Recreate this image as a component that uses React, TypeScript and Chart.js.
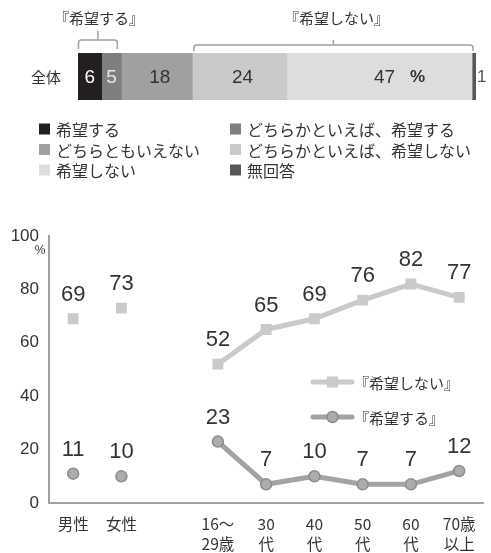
import React, { useEffect, useRef } from 'react';
import { Chart, registerables } from 'chart.js';

Chart.register(...registerables);

// ---- Data: top stacked bar ----
const barCategory = ['全体'];
const barSeriesNames = [
  '希望する',
  'どちらかといえば、希望する',
  'どちらともいえない',
  'どちらかといえば、希望しない',
  '希望しない',
  '無回答',
];
const barValues = [6, 5, 18, 24, 47, 1];
const barColors = ['#231f20', '#7f7f7f', '#9fa0a0', '#c9caca', '#dcdddd', '#595757'];
const barLabelColors = ['#ffffff', '#e6e6e6', '#333333', '#333333', '#333333', '#333333'];
const groupTitles = ['『希望する』', '『希望しない』'];

// ---- Data: bottom line chart ----
const genderLabels = ['男性', '女性'];
const ageLabels = [['16〜', '29歳'], ['30', '代'], ['40', '代'], ['50', '代'], ['60', '代'], ['70歳', '以上']];
const notWantGender = [69, 73];
const notWantAge = [52, 65, 69, 76, 82, 77];
const wantGender = [11, 10];
const wantAge = [23, 7, 10, 7, 7, 12];
const yTicks = [0, 20, 40, 60, 80, 100];
const lineSeriesNames = ['『希望しない』', '『希望する』'];

const JP = '"Noto Sans CJK JP", "Noto Sans", sans-serif';
const NUM = '"Liberation Sans", "Noto Sans", sans-serif';
const TEXT = '#333333';
const NOT_WANT_COLOR = '#c9caca';
const WANT_LINE = '#a3a3a3';
const WANT_POINT = '#acacac';
const WANT_BORDER = '#8c8c8c';
const AXIS = '#a0a0a0';

function drawBracket(ctx: CanvasRenderingContext2D, x1: number, x2: number, yTop: number, yBot: number, midX: number, tickTop: number) {
  const r = 3;
  ctx.beginPath();
  ctx.moveTo(x1, yBot);
  ctx.lineTo(x1, yTop + r);
  ctx.quadraticCurveTo(x1, yTop, x1 + r, yTop);
  ctx.lineTo(x2 - r, yTop);
  ctx.quadraticCurveTo(x2, yTop, x2, yTop + r);
  ctx.lineTo(x2, yBot);
  ctx.moveTo(midX, yTop);
  ctx.lineTo(midX, tickTop);
  ctx.stroke();
}

const topPlugin = {
  id: 'topDecor',
  afterDatasetsDraw(chart: any) {
    const ctx: CanvasRenderingContext2D = chart.ctx;
    ctx.save();
    const els = barValues.map((_, i) => chart.getDatasetMeta(i).data[0]);
    // value labels
    ctx.textBaseline = 'middle';
    barValues.forEach((v, i) => {
      const el = els[i];
      const left = el.base;
      const right = el.x;
      const cx = (left + right) / 2;
      const cy = el.y;
      ctx.fillStyle = barLabelColors[i];
      ctx.font = `19px ${NUM}`;
      if (i === barValues.length - 1) {
        ctx.textAlign = 'left';
        ctx.fillStyle = '#555555';
        ctx.font = `17px ${NUM}`;
        ctx.fillText(String(v), right + 1, cy + 1);
      } else if (i === 4) {
        ctx.textAlign = 'center';
        ctx.fillText(String(v), cx + 5, cy + 1);
        ctx.font = `bold 17px ${NUM}`;
        ctx.fillText('%', cx + 38, cy + 1);
      } else {
        ctx.textAlign = 'center';
        ctx.fillText(String(v), cx + (i >= 2 ? 3 : 0), cy + 1);
      }
    });
    // category label
    ctx.fillStyle = TEXT;
    ctx.font = `15px ${JP}`;
    ctx.textAlign = 'center';
    ctx.fillText(barCategory[0], 46, els[0].y + 1);

    // brackets
    ctx.strokeStyle = '#a0a0a0';
    ctx.lineWidth = 1.5;
    const b1x1 = els[0].base + 0.5;
    const b1x2 = els[1].x - 4;
    const b1mid = (b1x1 + b1x2) / 2;
    drawBracket(ctx, b1x1, b1x2, 40, 49, b1mid, 31);
    const b2x1 = els[3].base + 1.5;
    const b2x2 = els[4].x + 1;
    const b2mid = (b2x1 + b2x2) / 2;
    drawBracket(ctx, b2x1, b2x2, 45, 51, b2mid, 40);
    ctx.fillStyle = TEXT;
    ctx.font = `15px ${JP}`;
    ctx.textAlign = 'center';
    ctx.fillText(groupTitles[0], b1mid + 1, 18);
    ctx.fillText(groupTitles[1], b2mid + 3, 18);

    // legend
    const colX = [39, 230];
    const rowY = [129, 149.5, 170];
    ctx.textAlign = 'left';
    barSeriesNames.forEach((name, i) => {
      const col = i % 2;
      const row = Math.floor(i / 2);
      const x = colX[col];
      const y = rowY[row];
      ctx.fillStyle = barColors[i];
      ctx.fillRect(x, y - 5.5, 11, 11);
      ctx.fillStyle = TEXT;
      ctx.font = `16px ${JP}`;
      ctx.fillText(name, x + 17, y + 1);
    });
    ctx.restore();
  },
};

const bottomPlugin = {
  id: 'bottomDecor',
  afterDatasetsDraw(chart: any) {
    const ctx: CanvasRenderingContext2D = chart.ctx;
    ctx.save();
    ctx.fillStyle = TEXT;
    ctx.font = `22px ${NUM}`;
    ctx.textAlign = 'center';
    ctx.textBaseline = 'middle';
    chart.data.datasets.forEach((ds: any, di: number) => {
      const meta = chart.getDatasetMeta(di);
      meta.data.forEach((pt: any, i: number) => {
        const v = ds.data[i];
        if (v == null) return;
        ctx.fillText(String(v), pt.x, pt.y - 24);
      });
    });

    // unit under "100"
    const yScale = chart.scales.y;
    const top = yScale.getPixelForValue(100);
    ctx.font = `12px ${NUM}`;
    ctx.fillText('%', 40, top + 15);

    // legend
    const lx1 = 313;
    const lx2 = 352;
    const items = [
      { y: 182, color: NOT_WANT_COLOR, style: 'rect' },
      { y: 217, color: WANT_LINE, style: 'circle' },
    ];
    items.forEach((it, i) => {
      ctx.strokeStyle = it.color;
      ctx.lineWidth = 5;
      ctx.lineCap = 'round';
      ctx.beginPath();
      ctx.moveTo(lx1, it.y);
      ctx.lineTo(lx2, it.y);
      ctx.stroke();
      const mx = (lx1 + lx2) / 2;
      if (it.style === 'rect') {
        ctx.fillStyle = NOT_WANT_COLOR;
        ctx.fillRect(mx - 5.5, it.y - 5.5, 11, 11);
      } else {
        ctx.fillStyle = WANT_POINT;
        ctx.strokeStyle = WANT_BORDER;
        ctx.lineWidth = 1.5;
        ctx.beginPath();
        ctx.arc(mx, it.y, 5.5, 0, Math.PI * 2);
        ctx.fill();
        ctx.stroke();
      }
      ctx.fillStyle = TEXT;
      ctx.font = `15px ${JP}`;
      ctx.textAlign = 'left';
      ctx.fillText(lineSeriesNames[i], lx2 + 2, it.y + 1);
    });
    ctx.restore();
  },
};

export default function App() {
  const topRef = useRef<HTMLCanvasElement>(null);
  const botRef = useRef<HTMLCanvasElement>(null);

  useEffect(() => {
    const topChart = new Chart(topRef.current!, {
      type: 'bar',
      data: {
        labels: barCategory,
        datasets: barValues.map((v, i) => ({
          label: barSeriesNames[i],
          data: [v],
          backgroundColor: barColors[i],
          borderWidth: 0,
          barPercentage: 1,
          categoryPercentage: 1,
        })),
      },
      options: {
        indexAxis: 'y',
        responsive: false,
        animation: false,
        events: [],
        layout: { padding: { left: 78, right: 15, top: 53, bottom: 100 } },
        scales: {
          x: { stacked: true, min: 0, max: barValues.reduce((a, b) => a + b, 0), display: false },
          y: { stacked: true, display: false },
        },
        plugins: { legend: { display: false }, tooltip: { enabled: false } },
      },
      plugins: [topPlugin],
    } as any);

    const blanks = (n: number) => Array.from({ length: n }, () => null);
    const labels: any[] = [...genderLabels, '', ...ageLabels];
    const nGap = 1;
    const botChart = new Chart(botRef.current!, {
      type: 'line',
      data: {
        labels,
        datasets: [
          {
            label: lineSeriesNames[0],
            data: [...notWantGender, ...blanks(nGap + ageLabels.length)],
            showLine: false,
            pointStyle: 'rect',
            pointRadius: 7.7,
            pointBackgroundColor: NOT_WANT_COLOR,
            pointBorderWidth: 0,
            borderColor: NOT_WANT_COLOR,
          },
          {
            label: lineSeriesNames[0],
            data: [...blanks(genderLabels.length + nGap), ...notWantAge],
            borderColor: NOT_WANT_COLOR,
            borderWidth: 5,
            pointStyle: 'rect',
            pointRadius: 7.7,
            pointBackgroundColor: NOT_WANT_COLOR,
            pointBorderWidth: 0,
            spanGaps: false,
          },
          {
            label: lineSeriesNames[1],
            data: [...wantGender, ...blanks(nGap + ageLabels.length)],
            showLine: false,
            pointStyle: 'circle',
            pointRadius: 5.5,
            pointBackgroundColor: WANT_POINT,
            pointBorderColor: WANT_BORDER,
            pointBorderWidth: 1.5,
            borderColor: WANT_LINE,
          },
          {
            label: lineSeriesNames[1],
            data: [...blanks(genderLabels.length + nGap), ...wantAge],
            borderColor: WANT_LINE,
            borderWidth: 5,
            pointStyle: 'circle',
            pointRadius: 5.5,
            pointBackgroundColor: WANT_POINT,
            pointBorderColor: WANT_BORDER,
            pointBorderWidth: 1.5,
            spanGaps: false,
          },
        ],
      },
      options: {
        responsive: false,
        animation: false,
        events: [],
        layout: { padding: { left: 0, right: 0, top: 36, bottom: 0 } },
        scales: {
          x: {
            type: 'category',
            offset: true,
            grid: { display: false, drawTicks: false },
            border: { display: true, color: AXIS, width: 2 },
            ticks: {
              autoSkip: false,
              maxRotation: 0,
              minRotation: 0,
              padding: 11,
              color: TEXT,
              font: { family: JP, size: 15.5, lineHeight: 1.3 },
            },
            afterFit: (s: any) => { s.height = 50; },
          },
          y: {
            min: 0,
            max: 100,
            afterBuildTicks: (s: any) => { s.ticks = yTicks.map((v) => ({ value: v })); },
            grid: { display: false, drawTicks: false },
            border: { display: true, color: AXIS, width: 2 },
            ticks: {
              padding: 10,
              color: TEXT,
              font: { family: NUM, size: 17 },
            },
            afterFit: (s: any) => { s.width = 49; },
          },
        },
        plugins: { legend: { display: false }, tooltip: { enabled: false } },
      },
      plugins: [bottomPlugin],
    } as any);

    return () => {
      topChart.destroy();
      botChart.destroy();
    };
  }, []);

  return (
    <div style={{ position: 'absolute', left: 0, top: 0, width: 491, height: 553, background: '#ffffff' }}>
      <canvas ref={topRef} width={491} height={200} style={{ display: 'block', width: 491, height: 200 }} />
      <canvas ref={botRef} width={491} height={353} style={{ display: 'block', width: 491, height: 353 }} />
    </div>
  );
}
